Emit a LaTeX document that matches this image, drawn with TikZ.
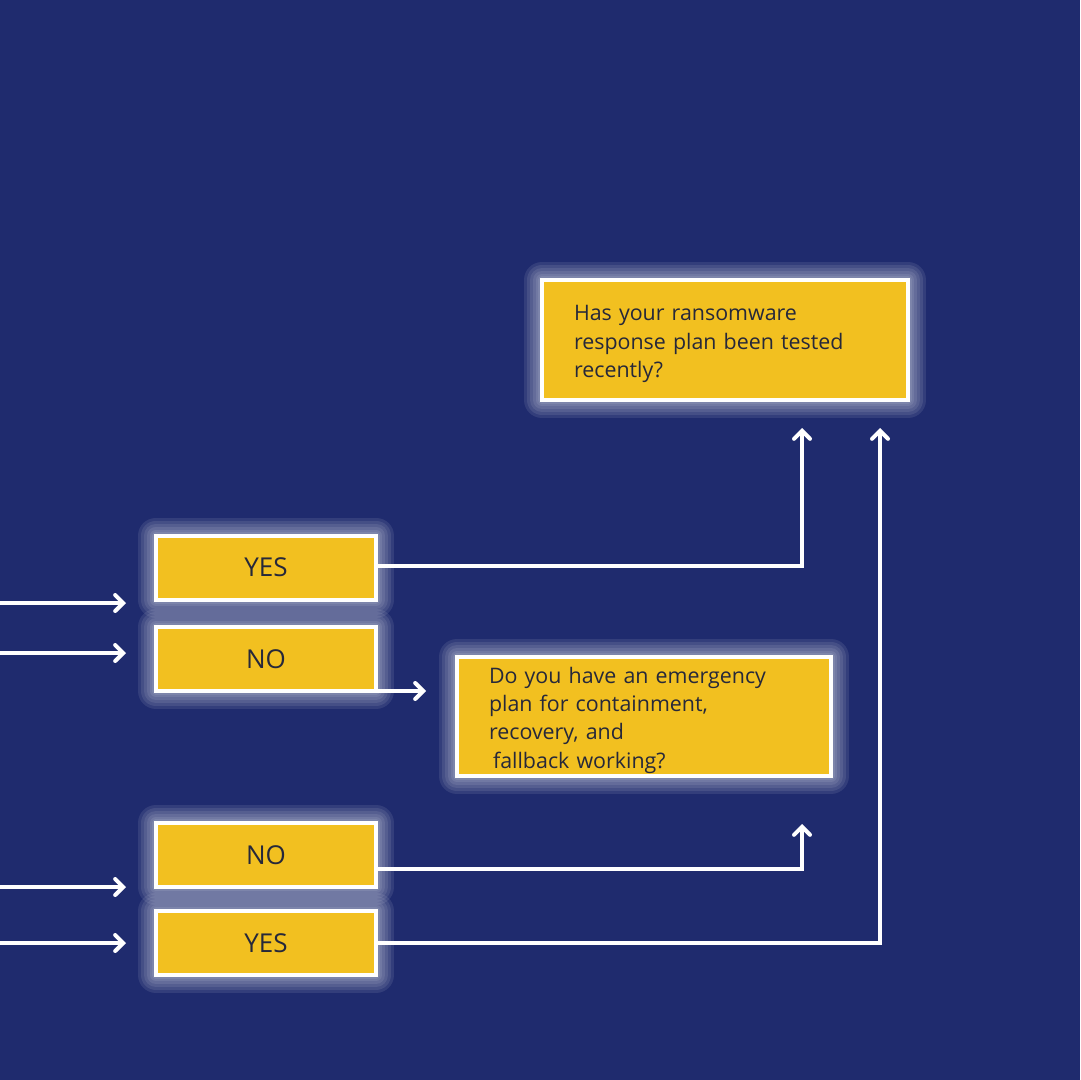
\documentclass[tikz,border=0pt]{standalone}
\usepackage{fontspec}
\setmainfont{Open Sans}
\usetikzlibrary{arrows.meta,calc}

\definecolor{navy}{RGB}{31,43,110}
\definecolor{gold}{RGB}{242,192,32}
\definecolor{ink}{RGB}{38,40,58}

\begin{document}
\begin{tikzpicture}[x=0.5pt,y=-0.5pt,
    glow_ring/.style ={preaction={draw=white, opacity=0.09, line width=#1, line join=round}},
    box_glow/.style ={glow_ring=18pt, glow_ring=15pt, glow_ring=12pt, glow_ring=9pt,
      glow_ring=6pt, glow_ring=4pt},
    block_answer/.style ={rectangle, draw=white, line width=2pt, fill=gold, box_glow,
      minimum width=110pt, minimum height=32pt, text=ink,
      font=\fontsize{13}{15}\selectfont},
    block_question/.style ={rectangle, draw=white, line width=2pt, fill=gold, box_glow,
      align=left, inner xsep=16pt, inner ysep=0pt, text=ink,
      font=\fontsize{10.7}{14.2}\selectfont},
    line/.style ={draw=white, line width=2pt},
    arrow_line/.style ={line, -{Straight Barb[length=4pt,width=8pt,line cap=round]}}]
    % background
    \fill[navy] (0,0) rectangle (1080,1080);
    \useasboundingbox (0,0) rectangle (1080,1080);
    \clip (0,0) rectangle (1080,1080);
    % questions
    \node [block_question, text width=151pt, minimum height=60pt] (plan) at (725,340)
      {\rule{0pt}{11.8pt}Has your ransomware\\response plan been tested\\recently?};
    \node [block_question, text width=155pt, minimum height=59.5pt] (emerg) at (644,716.5)
      {\rule{0pt}{11.8pt}Do you have an emergency\\plan for containment,\\recovery, and\\\hspace{2pt}fallback working?};
    % answers
    \node [block_answer] (yesA) at (266,567.5) {YES};
    \node [block_answer] (noA) at (266,659) {NO};
    \node [block_answer] (noB) at (266,855) {NO};
    \node [block_answer] (yesB) at (266,943) {YES};
    % free ends
    \coordinate (inA) at (0,603);
    \coordinate (inB) at (0,653);
    \coordinate (inC) at (0,887);
    \coordinate (inD) at (0,943);
    \coordinate (tipcol) at (126,0);
    \coordinate (outcol) at (1080,0);
    % connectors
    \draw [arrow_line] (inA) -- (inA -| tipcol);
    \draw [arrow_line] (inB) -- (inB -| tipcol);
    \draw [arrow_line] (inC) -- (inC -| tipcol);
    \draw [arrow_line] (inD) -- (inD -| tipcol);
    \draw [arrow_line] ($(yesA.east)+(0,-2)$) -| ($(plan.south)+(77,26)$);
    \draw [arrow_line] ($(noA.south east)+(0,-2)$) -- ($(emerg.west|-noA.south east)+(-29,-2)$);
    \draw [arrow_line] ($(noB.east)+(0,14)$) -| ($(emerg.south)+(158,46)$);
    \draw [arrow_line] (yesB.east) -| ($(plan.south)+(155,26)$);
    \draw [line] ($(plan.east)+(0,-28)$) -- ($(plan.east)+(0,-28)$ -| outcol);
    \draw [line] ($(plan.east)+(0,36)$) -- ($(plan.east)+(0,36)$ -| outcol);
    \draw [line] ($(emerg.east)+(0,-3.5)$) -- ($(emerg.east)+(0,-3.5)$ -| outcol);
    \draw [line] ($(emerg.east)+(0,59.5)$) -- ($(emerg.east)+(0,59.5)$ -| outcol);
\end{tikzpicture}
\end{document}
